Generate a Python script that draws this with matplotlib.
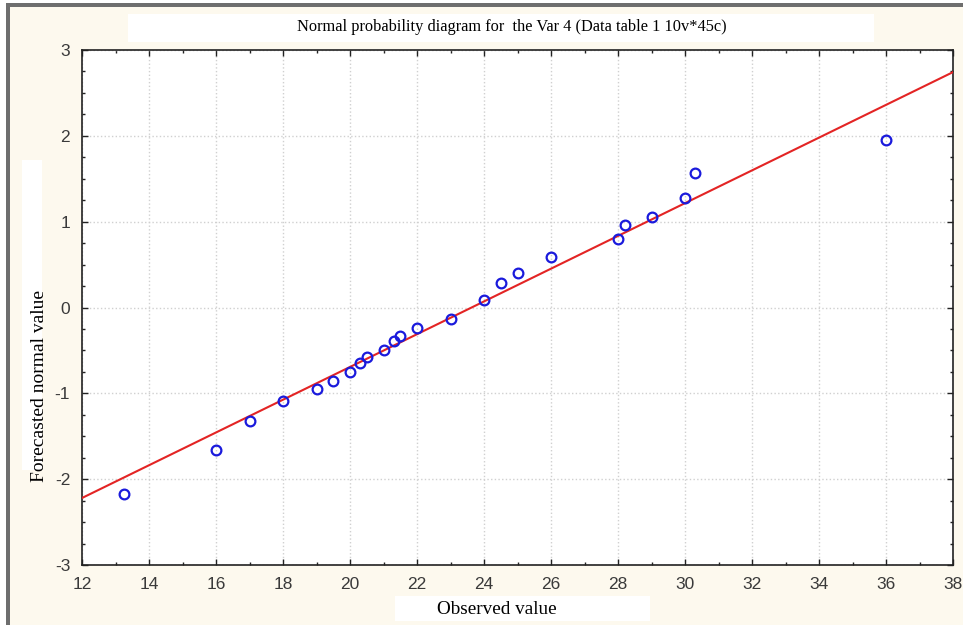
import numpy as np
import matplotlib
matplotlib.use("Agg")
import matplotlib.pyplot as plt
from matplotlib.patches import Rectangle
from matplotlib.ticker import MultipleLocator

observed = [13.25, 16.0, 17.0, 18.0, 19.0, 19.5, 20.0, 20.3, 20.5, 21.0,
            21.3, 21.5, 22.0, 23.0, 24.0, 24.5, 25.0, 26.0, 28.0, 28.2,
            29.0, 30.0, 30.3, 36.0]
forecast = [-2.17, -1.66, -1.32, -1.09, -0.95, -0.86, -0.75, -0.65, -0.58, -0.49,
            -0.39, -0.33, -0.24, -0.13, 0.09, 0.28, 0.40, 0.59, 0.80, 0.96,
            1.05, 1.27, 1.57, 1.95]

# reference normal line: z = (x - mean) / sd
line_mean = 23.63
line_sd = 5.24

x_ticks = list(range(12, 39, 2))
y_ticks = [-3, -2, -1, 0, 1, 2, 3]

plt.rcParams['axes.unicode_minus'] = False

bg = '#fdf9ee'
fig = plt.figure(figsize=(9.63, 6.25), dpi=100)
fig.patch.set_facecolor(bg)

def box(x0, y0, x1, y1, color):
    # rectangle given in pixel coords from the top-left corner
    fig.patches.append(Rectangle((x0 / 963, 1 - y1 / 625), (x1 - x0) / 963, (y1 - y0) / 625,
                                 transform=fig.transFigure, facecolor=color, edgecolor='none'))

# window frame (gray bars at left and top, white strip outside)
box(0, 0, 6, 625, 'white')
box(0, 0, 963, 3, 'white')
box(6, 3, 10, 625, '#6e6e6e')
box(6, 3, 963, 7, '#6e6e6e')

# white boxes behind title and axis labels
box(128, 14, 874, 42, 'white')
box(22, 160, 42, 470, 'white')
box(395, 596, 650, 621, 'white')

ax = fig.add_axes([82 / 963, 1 - 565 / 625, (953 - 82) / 963, (565 - 50) / 625])
ax.set_facecolor('white')

xs = np.array([12, 38])
ax.plot(xs, (xs - line_mean) / line_sd, color='#e32424', lw=1.5, zorder=3)
ax.plot(observed, forecast, 'o', mfc='none', mec='#1a1adc', mew=1.6, ms=7, zorder=4)

ax.set_xlim(12, 38)
ax.set_ylim(-3, 3)
ax.set_xticks(x_ticks)
ax.set_yticks(y_ticks)
ax.xaxis.set_minor_locator(MultipleLocator(1))
ax.yaxis.set_minor_locator(MultipleLocator(0.25))
ax.tick_params(which='both', direction='in', top=True, right=True, color='#222222')
ax.tick_params(which='major', length=4, width=1, pad=8.5)
ax.tick_params(which='minor', length=2.5, width=1)
for lab in ax.get_xticklabels() + ax.get_yticklabels():
    lab.set_fontfamily('Liberation Sans')
    lab.set_fontsize(12.5)
    lab.set_color('#3a3a3a')
ax.grid(True, which='major', color='#d0d0d0', linestyle=':', linewidth=1)
for sp in ax.spines.values():
    sp.set_color('#222222')
    sp.set_linewidth(1.2)

fig.text(512 / 963, 1 - 27 / 625, 'Normal probability diagram for  the Var 4 (Data table 1 10v*45c)',
         ha='center', va='center', fontsize=11.8, family='Liberation Serif')
fig.text(497 / 963, 1 - 609 / 625, 'Observed value', ha='center', va='center',
         fontsize=13.8, family='Liberation Serif')
fig.text(40 / 963, 1 - 386 / 625, 'Forecasted normal value', ha='center', va='center',
         rotation=90, fontsize=14, family='Liberation Serif')

fig.savefig('out.png', dpi=100, facecolor=fig.get_facecolor())
